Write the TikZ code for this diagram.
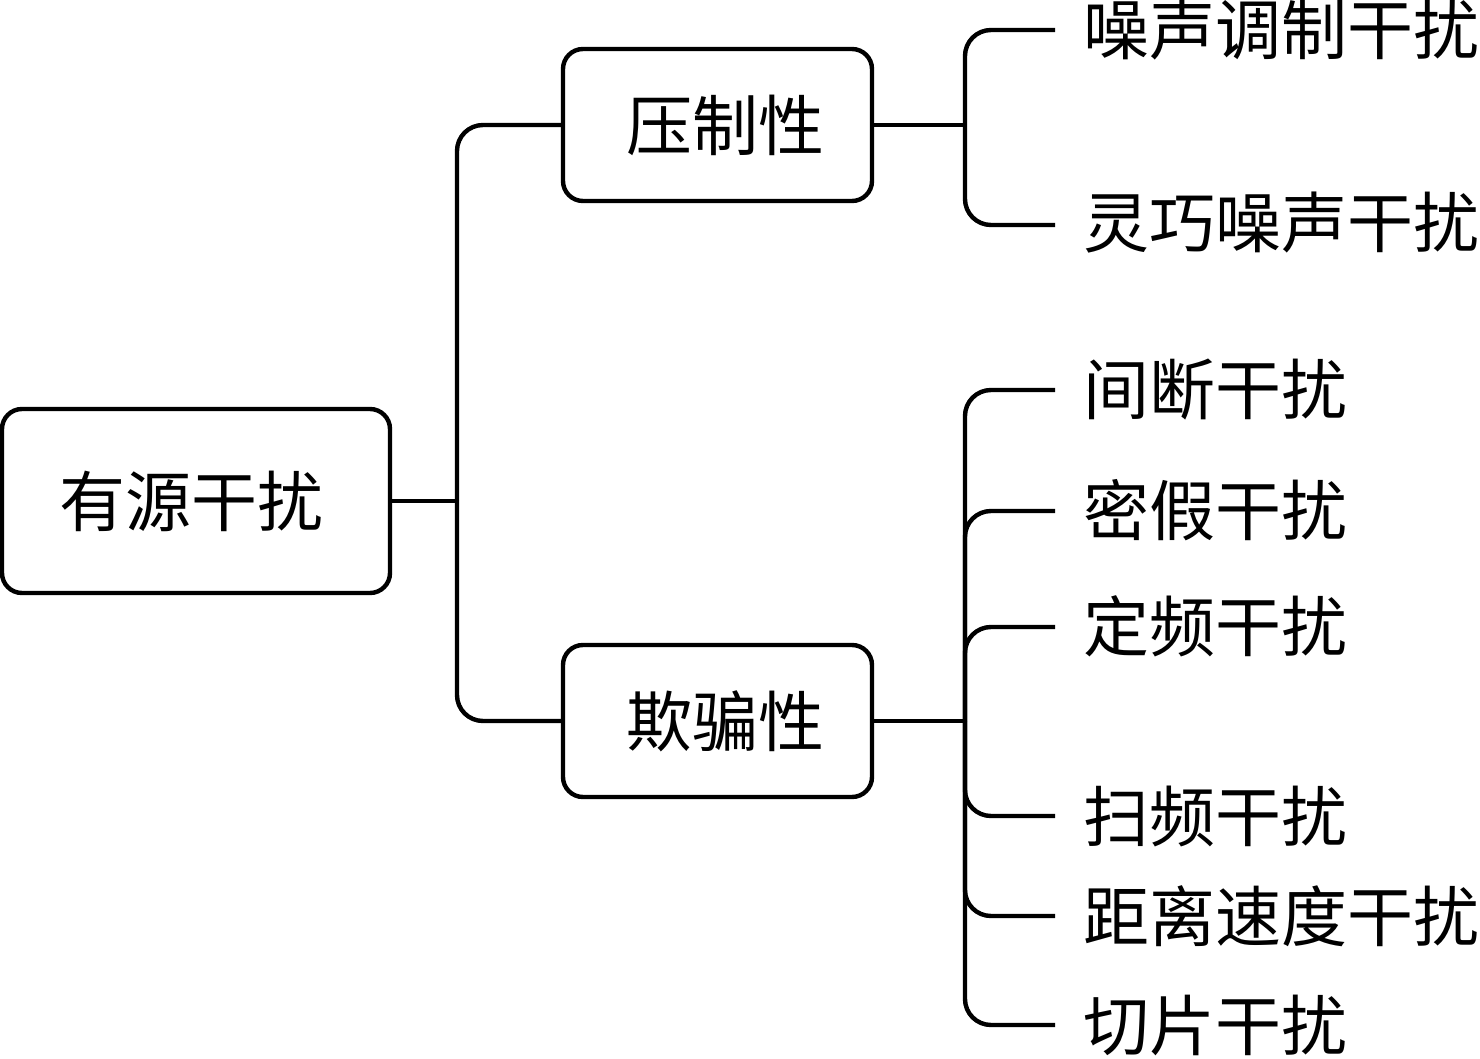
\documentclass[tikz,border=0pt]{standalone}
\usepackage{fontspec}
\setmainfont{Noto Sans CJK SC}
\begin{document}
\begin{tikzpicture}[x=0.5pt,y=-0.5pt,
  cjk/.style={font=\fontsize{33}{36}\selectfont},
  box/.style={cjk, draw, line width=2.2pt, rounded corners=10pt, inner sep=0pt},
  leaf/.style={cjk, anchor=west, inner sep=0pt},
  link/.style={line width=2.2pt},
  conn/.style={line width=2.2pt, rounded corners=13pt}]
\useasboundingbox (0,0) rectangle (1480,1059);
% boxes
\node[box, minimum width=194pt, minimum height=92pt] (root) at (196,501) {有源干扰\hspace*{4pt}};
\node[box, minimum width=154.5pt, minimum height=76pt] (sup) at (717.5,125) {\hspace*{8pt}压制性};
\node[box, minimum width=154.5pt, minimum height=76pt] (dec) at (717.5,721) {\hspace*{8pt}欺骗性};
% leaves
\node[leaf] (a1) at (1083,30) {噪声调制干扰};
\node[leaf] (a2) at (1083,223) {灵巧噪声干扰};
\node[leaf] (b1) at (1083,390) {间断干扰};
\node[leaf] (b2) at (1083,510) {密假干扰};
\node[leaf] (b3) at (1083,626) {定频干扰};
\node[leaf] (b4) at (1083,816) {扫频干扰};
\node[leaf] (b5) at (1083,916) {距离速度干扰};
\node[leaf] (b6) at (1083,1025) {切片干扰};
% junctions and free ends
\coordinate (j1) at (457,501);
\coordinate (j2) at (965,125);
\coordinate (j3) at (965,721);
\coordinate (ea1) at (1055,30);
\coordinate (ea2) at (1055,225);
\coordinate (eb1) at (1055,390);
\coordinate (eb2) at (1055,511);
\coordinate (eb3) at (1055,627);
\coordinate (eb4) at (1055,816);
\coordinate (eb5) at (1055,916);
\coordinate (eb6) at (1055,1025);
% connectors
\draw[link] (root.east) -- (j1);
\draw[conn] (j1) |- (sup.west);
\draw[conn] (j1) |- (dec.west);
\draw[link] (sup.east) -- (j2);
\draw[conn] (j2) |- (ea1);
\draw[conn] (j2) |- (ea2);
\draw[link] (dec.east) -- (j3);
\foreach \e in {eb1,eb2,eb3,eb4,eb5,eb6} \draw[conn] (j3) |- (\e);
\end{tikzpicture}
\end{document}
